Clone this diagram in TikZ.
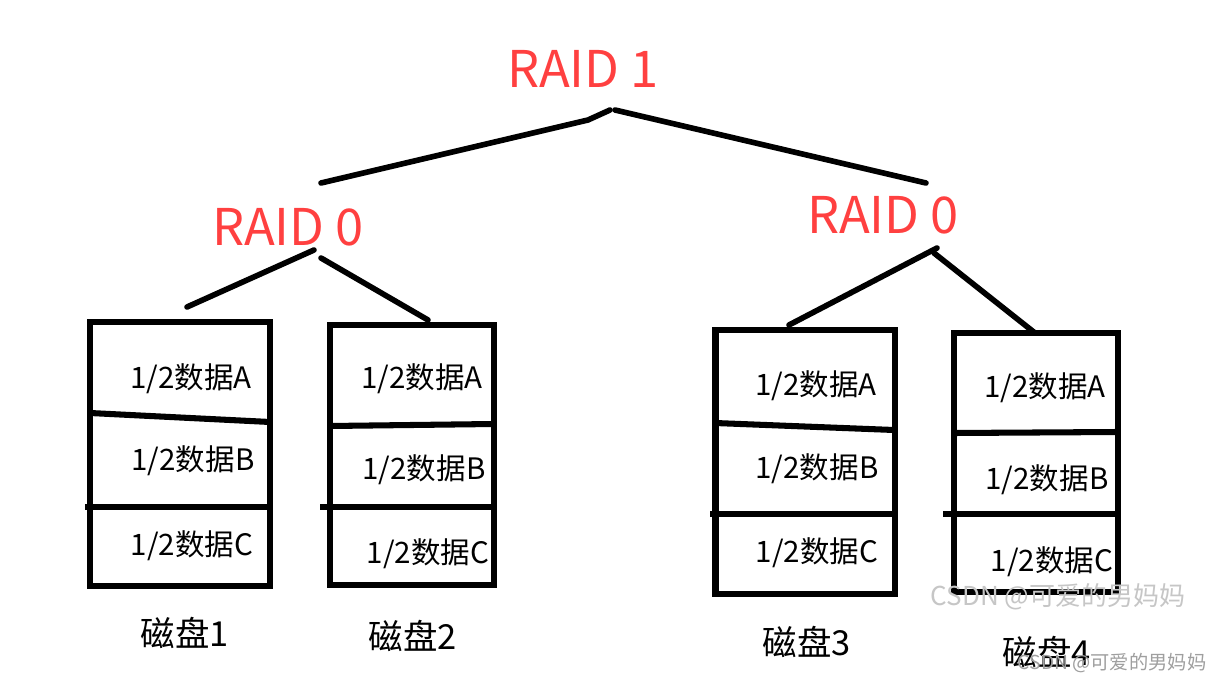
\documentclass[tikz,border=0pt]{standalone}
\usepackage{fontspec}
\setmainfont{Noto Sans CJK SC}
\definecolor{raidRed}{RGB}{255,64,64}

\begin{document}
\begin{tikzpicture}[x=0.025cm, y=-0.025cm]
\tikzstyle{raidStyle}=[text = raidRed, inner sep = 0pt, font = \fontsize{36}{36}\selectfont]
\tikzstyle{cellStyle}=[inner sep = 0pt, font = \fontsize{21}{21}\selectfont]
\tikzstyle{diskLabelStyle}=[inner sep = 0pt, font = \fontsize{24.5}{24.5}\selectfont]
\tikzstyle{diskStyle}=[draw, line width = 4.3pt, inner sep = 0pt]
\tikzstyle{dividerStyle}=[line width = 4.3pt]
\tikzstyle{EdgeStyle}=[line width = 4pt, line cap = round, line join = round]
\tikzstyle{wmStyle}=[inner sep = 0pt, text = gray!45]
\useasboundingbox (0,0) rectangle (1224,682);
\fill[white] (0,0) rectangle (1224,682);
% raid levels
\node[raidStyle] (r1) at (583,69) {RAID 1};
\node[raidStyle] (r0a) at (288,227) {RAID 0};
\node[raidStyle] (r0b) at (883,215) {RAID 0};
% disks
\node[diskStyle, minimum width = 4.5cm, minimum height = 6.6cm] (d1) at (180,454) {};
\node[diskStyle, minimum width = 4.1cm, minimum height = 6.5cm] (d2) at (412,455) {};
\node[diskStyle, minimum width = 4.475cm, minimum height = 6.6cm] (d3) at (805,462) {};
\node[diskStyle, minimum width = 4.1cm, minimum height = 6.475cm] (d4) at (1036,462.5) {};
\draw[dividerStyle] (90,413) -- (270,422);
\draw[dividerStyle] (85,507) -- (270,507);
\draw[dividerStyle] (330,426) -- (494,424);
\draw[dividerStyle] (320,507) -- (494,507);
\draw[dividerStyle] (715,423) -- (894,430);
\draw[dividerStyle] (710,514) -- (894,514);
\draw[dividerStyle] (954,433) -- (1118,432);
\draw[dividerStyle] (943,514) -- (1118,514);
% cells
\node[cellStyle] (a1) at (191,379) {1/2数据A};
\node[cellStyle] (b1) at (193,461) {1/2数据B};
\node[cellStyle] (c1) at (192,546) {1/2数据C};
\node[cellStyle] (a2) at (422,379) {1/2数据A};
\node[cellStyle] (b2) at (424,470) {1/2数据B};
\node[cellStyle] (c2) at (428,554) {1/2数据C};
\node[cellStyle] (a3) at (816,386) {1/2数据A};
\node[cellStyle] (b3) at (817,469) {1/2数据B};
\node[cellStyle] (c3) at (817,553) {1/2数据C};
\node[cellStyle] (a4) at (1045,388) {1/2数据A};
\node[cellStyle] (b4) at (1047,480) {1/2数据B};
\node[cellStyle] (c4) at (1052,562) {1/2数据C};
\node[diskLabelStyle] (l1) at (185,633) {磁盘1};
\node[diskLabelStyle] (l2) at (413,636) {磁盘2};
\node[diskLabelStyle] (l3) at (807,642) {磁盘3};
\node[diskLabelStyle] (l4) at (1047,652) {磁盘4};
\node[wmStyle, font = \fontsize{18.5}{18.5}\selectfont] (w1) at (1058,597) {CSDN @可爱的男妈妈};
\node[wmStyle, text = gray!75, font = \fontsize{13.7}{13.7}\selectfont] (w2) at (1112,663) {CSDN @可爱的男妈妈};
% connector ends
\coordinate (e0) at (610,110);
\coordinate (e1) at (588,120);
\coordinate (e2) at (321,183);
\coordinate (e3) at (615,110);
\coordinate (e4) at (926,183);
\coordinate (e5) at (314,250);
\coordinate (e6) at (187,307);
\coordinate (e7) at (321,258);
\coordinate (e8) at (428,320);
\coordinate (e9) at (937,248);
\coordinate (e10) at (789,325);
\coordinate (e11) at (934,253);
\coordinate (e12) at (1035,333);
\draw[EdgeStyle] (e0) -- (e1) -- (e2);
\draw[EdgeStyle] (e3) -- (e4);
\draw[EdgeStyle] (e5) -- (e6);
\draw[EdgeStyle] (e7) -- (e8);
\draw[EdgeStyle] (e9) -- (e10);
\draw[EdgeStyle] (e11) -- (e12);
\end{tikzpicture}
\end{document}
